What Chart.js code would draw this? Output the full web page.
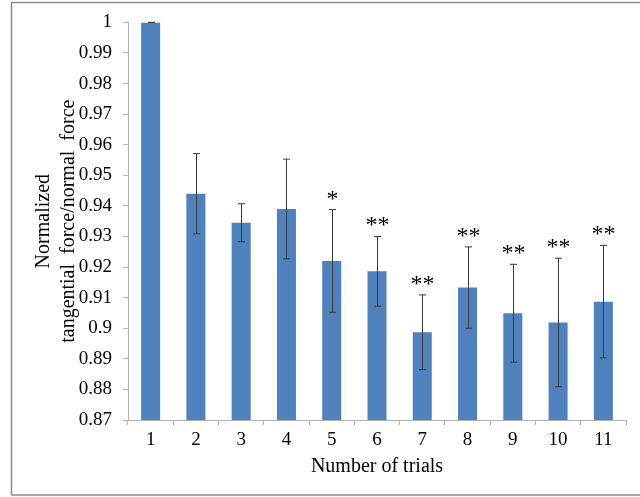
<!DOCTYPE html>
<html>
<head>
<meta charset="utf-8">
<title>Normalized tangential force</title>
<script src="https://cdn.jsdelivr.net/npm/chart.js@4"></script>
<style>
  html, body { margin: 0; padding: 0; background: #fff; }
  #wrap { width: 640px; height: 497px; }
</style>
</head>
<body>
<div id="wrap"><canvas id="forceChart" width="640" height="497"></canvas></div>
<script>
// =====================
// Data
// =====================
const trials = ['1', '2', '3', '4', '5', '6', '7', '8', '9', '10', '11'];
const meanRatio = [1, 0.944, 0.9345, 0.939, 0.922, 0.9186, 0.8987, 0.9133, 0.9049, 0.9019, 0.9087];
const errRatio = [0, 0.0131, 0.0062, 0.0163, 0.0168, 0.0114, 0.0122, 0.0133, 0.016, 0.021, 0.0184];
const signif = ['', '', '', '', '*', '**', '**', '**', '**', '**', '**'];
const yTickLabels = ['0.87', '0.88', '0.89', '0.9', '0.91', '0.92', '0.93', '0.94',
                     '0.95', '0.96', '0.97', '0.98', '0.99', '1'];

const SERIF = "'Liberation Serif', 'Times New Roman', serif";
const AXIS_GREY = '#b3b3b3';

// Outer frame around the whole figure
const framePlugin = {
    id: 'frame',
    beforeDraw(chart) {
        const ctx = chart.ctx;
        ctx.save();
        ctx.fillStyle = '#fff';
        ctx.fillRect(0, 0, chart.width, chart.height);
        ctx.strokeStyle = '#8c8c8c';
        ctx.lineWidth = 1.5;
        ctx.strokeRect(11.5, 2.5, 700, 492.5);
        ctx.restore();
    }
};

// Error bars (mean +/- err) and significance stars above them
const errorBarPlugin = {
    id: 'errorBars',
    afterDatasetsDraw(chart) {
        const ctx = chart.ctx;
        const y = chart.scales.y;
        const bars = chart.getDatasetMeta(0).data;
        ctx.save();
        ctx.strokeStyle = '#3a3a3a';
        ctx.lineWidth = 1;
        bars.forEach((bar, i) => {
            const x = Math.round(bar.x) + 0.5;
            const top = y.getPixelForValue(meanRatio[i] + errRatio[i]);
            const bot = y.getPixelForValue(meanRatio[i] - errRatio[i]);
            ctx.beginPath();
            ctx.moveTo(x, top);
            ctx.lineTo(x, bot);
            ctx.moveTo(x - 3.5, top);
            ctx.lineTo(x + 3.5, top);
            ctx.moveTo(x - 3.5, bot);
            ctx.lineTo(x + 3.5, bot);
            ctx.stroke();

            if (signif[i]) {
                ctx.fillStyle = '#000';
                ctx.font = '24px ' + SERIF;
                ctx.textAlign = 'center';
                ctx.textBaseline = 'alphabetic';
                ctx.fillText(signif[i], x, top - 4);
            }
        });
        ctx.restore();
    }
};

// =====================
// Chart
// =====================
const ctx = document.getElementById('forceChart').getContext('2d');
new Chart(ctx, {
    type: 'bar',
    data: {
        labels: trials,
        datasets: [{
            data: meanRatio,
            backgroundColor: '#4f81bd',
            borderWidth: 0,
            barPercentage: 0.42,
            categoryPercentage: 1
        }]
    },
    options: {
        responsive: false,
        animation: false,
        layout: { padding: { top: 20, right: 14, left: 0, bottom: 0 } },
        plugins: {
            legend: { display: false },
            tooltip: { enabled: false }
        },
        scales: {
            x: {
                afterFit: s => { s.height = 77; },
                grid: {
                    drawOnChartArea: false,
                    drawTicks: true,
                    tickLength: 5,
                    color: AXIS_GREY
                },
                border: { color: AXIS_GREY, width: 1 },
                ticks: {
                    color: '#000',
                    padding: 4,
                    font: { family: SERIF, size: 19 }
                },
                title: {
                    display: true,
                    text: 'Number of trials',
                    color: '#000',
                    font: { family: SERIF, size: 20, lineHeight: 1.2 },
                    padding: { top: 0, bottom: 18 }
                }
            },
            y: {
                min: 0.87,
                max: 1,
                afterFit: s => { s.width = 128; },
                grid: {
                    drawOnChartArea: false,
                    drawTicks: true,
                    tickLength: 5,
                    color: AXIS_GREY
                },
                border: { color: AXIS_GREY, width: 1 },
                ticks: {
                    stepSize: 0.01,
                    color: '#000',
                    padding: 11,
                    font: { family: SERIF, size: 19 },
                    callback: (v, i) => yTickLabels[i]
                },
                title: {
                    display: true,
                    text: ['Normalized', 'tangential  force/normal  force'],
                    color: '#000',
                    font: { family: SERIF, size: 20, lineHeight: 1.25 },
                    padding: { top: 31.5, bottom: 0 }
                }
            }
        }
    },
    plugins: [framePlugin, errorBarPlugin]
});
</script>
</body>
</html>
